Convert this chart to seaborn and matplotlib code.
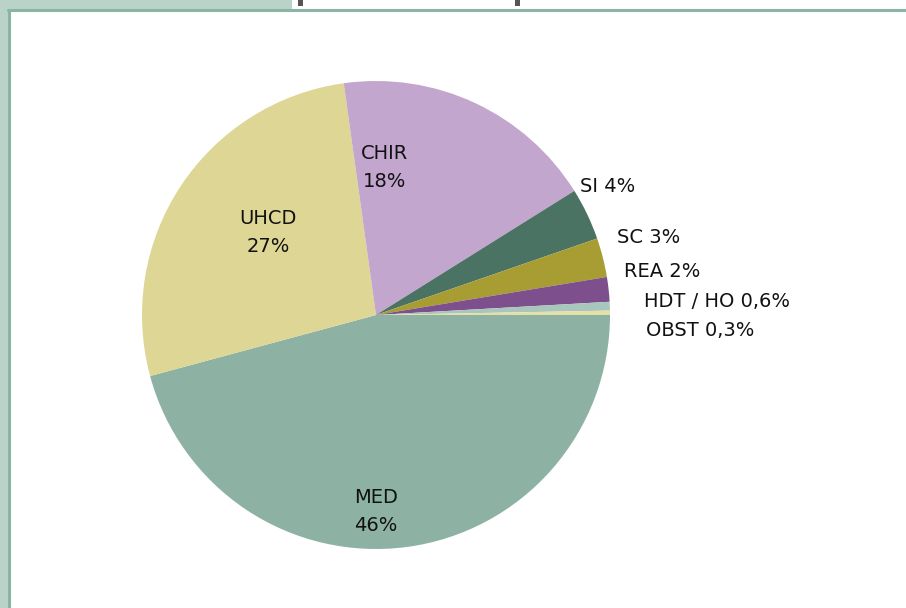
import matplotlib
matplotlib.use("Agg")
import matplotlib.pyplot as plt
from matplotlib.patches import Rectangle
from matplotlib.lines import Line2D
import seaborn as sns

# Data
categories = ["MED", "UHCD", "CHIR", "SI", "SC", "REA", "HDT / HO", "OBST"]
values = [45.8, 27.0, 18.3, 3.6, 2.7, 1.7, 0.6, 0.3]
pct_labels = ["46%", "27%", "18%", "4%", "3%", "2%", "0,6%", "0,3%"]
colors = ["#8DB2A4", "#DDD694", "#C3A6CE", "#4B7363", "#A89D33", "#7D4F8C", "#A9C6BC", "#E4DFA6"]

sns.set_theme(style="white")
plt.rcParams["font.family"] = ["DejaVu Sans"]

W, H = 906, 608
fig = plt.figure(figsize=(W / 100, H / 100), dpi=100)
fig.patch.set_facecolor("white")

# Decorative frame (slide background)
fig.add_artist(Rectangle((0, 1 - 9 / H), 292 / W, 9 / H, transform=fig.transFigure,
                         facecolor="#B9D3C9", edgecolor="none", zorder=0))
fig.add_artist(Rectangle((0, 0), 8 / W, 1, transform=fig.transFigure,
                         facecolor="#B9D3C9", edgecolor="none", zorder=0))
fig.add_artist(Line2D([8 / W, 906 / W], [1 - 10 / H, 1 - 10 / H], transform=fig.transFigure,
                      color="#8AB4A4", lw=2.2, zorder=1))
fig.add_artist(Line2D([9 / W, 9 / W], [0, 1 - 10 / H], transform=fig.transFigure,
                      color="#8AB4A4", lw=2.2, zorder=1))
# clipped title fragments at top edge
for x0 in (298, 515):
    fig.add_artist(Rectangle((x0 / W, 1 - 6 / H), 5 / W, 6 / H, transform=fig.transFigure,
                             facecolor="#555555", edgecolor="none", zorder=1))

# Pie axes: center (376, 315) px, radius 234 px
cx, cy, r = 376, 315, 234
ax = fig.add_axes([(cx - r) / W, (H - cy - r) / H, 2 * r / W, 2 * r / H])
ax.pie(values, colors=sns.color_palette(colors), startangle=0, counterclock=False,
       radius=1, wedgeprops=dict(linewidth=0))
ax.set_xlim(-1, 1)
ax.set_ylim(-1, 1)
ax.set_aspect("equal")
ax.axis("off")

fs = 14
tc = "#111111"
# inside labels
inside = {0: (0.0, -0.84), 1: (-0.46, 0.352), 2: (0.035, 0.632)}
for i, (x, y) in inside.items():
    ax.text(x, y, f"{categories[i]}\n{pct_labels[i]}", ha="center", va="center",
            fontsize=fs, color=tc, linespacing=1.6)
# outside labels
outside = {3: (0.872, 0.551), 4: (1.030, 0.333), 5: (1.060, 0.188),
           6: (1.145, 0.056), 7: (1.154, -0.068)}
for i, (x, y) in outside.items():
    ax.text(x, y, f"{categories[i]} {pct_labels[i]}", ha="left", va="center",
            fontsize=fs, color=tc, clip_on=False)

fig.savefig("out.png", dpi=100)
